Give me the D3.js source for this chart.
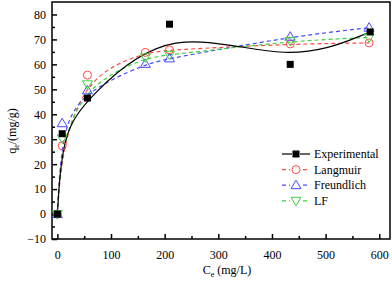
<!DOCTYPE html>
<meta charset="utf-8">
<style>
body { margin: 0; background: #fff; }
text { font-family: "Liberation Serif", "Times New Roman", serif; }
.axis path, .axis line { stroke: #000; stroke-width: 1.5px; }
.axis text { font-size: 12px; }
</style>
<svg width="392" height="281"></svg>
<script src="https://d3js.org/d3.v7.min.js"></script>
<script>

// data
const ce = [0, 9, 56, 164, 209, 434, 581];
const experimental = [[0, 0], [9, 32.2], [56, 46.5], [209, 76.1], [434, 60], [583, 73]];
const langmuir = [0, 27.4, 55.7, 64.8, 65.8, 68.2, 68.6];
const freundlich = [0, 36.4, 49.6, 60.2, 62.4, 71.1, 74.7];
const lf = [0, 30.3, 52.0, 62.8, 63.8, 69.4, 70.8];

const xTicks = [0, 100, 200, 300, 400, 500, 600];
const yTicks = [-10, 0, 10, 20, 30, 40, 50, 60, 70, 80];

const width = 392;
const height = 281;
const margin = { top: 2, right: 2, bottom: 42, left: 52 };
const serif = '"Liberation Serif", "Times New Roman", serif';

const svg = d3.select('svg');

const x = d3.scaleLinear().domain([-10, 620]).range([margin.left, width - margin.right]);
const y = d3.scaleLinear().domain([-10, 85]).range([height - margin.bottom, margin.top]);

// frame
svg.append('rect')
  .attr('x', margin.left)
  .attr('y', margin.top)
  .attr('width', width - margin.right - margin.left)
  .attr('height', height - margin.bottom - margin.top)
  .attr('fill', 'none')
  .attr('stroke', '#000')
  .attr('stroke-width', 1.5);

// minor ticks
svg.append('g')
  .attr('class', 'axis')
  .attr('transform', `translate(0,${height - margin.bottom})`)
  .call(d3.axisBottom(x).tickValues(d3.range(50, 600, 100)).tickSize(-3).tickFormat(''))
  .select('.domain').remove();

svg.append('g')
  .attr('class', 'axis')
  .attr('transform', `translate(${margin.left},0)`)
  .call(d3.axisLeft(y).tickValues(d3.range(-5, 85, 10)).tickSize(-3).tickFormat(''))
  .select('.domain').remove();

// major ticks
const xAxis = svg.append('g')
  .attr('class', 'axis')
  .attr('transform', `translate(0,${height - margin.bottom})`)
  .call(d3.axisBottom(x).tickValues(xTicks).tickSize(-5).tickPadding(11).tickSizeOuter(0));
xAxis.select('.domain').remove();

const yAxis = svg.append('g')
  .attr('class', 'axis')
  .attr('transform', `translate(${margin.left},0)`)
  .call(d3.axisLeft(y).tickValues(yTicks).tickSize(-5).tickPadding(6).tickSizeOuter(0));
yAxis.select('.domain').remove();
svg.selectAll('.axis')
  .attr('font-family', serif)
  .attr('font-size', 12);
svg.selectAll('.axis text').attr('fill', '#000');

// axis titles
const xl = svg.append('text')
  .attr('x', 227)
  .attr('y', 274)
  .attr('text-anchor', 'middle')
  .attr('font-size', 12);
xl.append('tspan').text('C');
xl.append('tspan').attr('font-size', 8).attr('dy', 3).text('e');
xl.append('tspan').attr('dy', -3).text(' (mg/L)');

const yl = svg.append('text')
  .attr('transform', 'translate(16,131) rotate(-90)')
  .attr('text-anchor', 'middle')
  .attr('font-size', 12);
yl.append('tspan').text('q');
yl.append('tspan').attr('font-size', 8).attr('dy', 3).text('e');
yl.append('tspan').attr('dy', -3).text('/(mg/g)');

const line = d3.line()
  .x(d => x(d[0]))
  .y(d => y(d[1]))
  .curve(d3.curveBasis);

const models = [
  { name: 'Langmuir', values: langmuir, color: '#ff4a4a', symbol: 'circle' },
  { name: 'Freundlich', values: freundlich, color: '#4a4aff', symbol: 'up' },
  { name: 'LF', values: lf, color: '#3ad43a', symbol: 'down' }
];

svg.append('defs').append('clipPath').attr('id', 'plot')
  .append('rect')
  .attr('x', margin.left).attr('y', margin.top)
  .attr('width', width - margin.left - margin.right)
  .attr('height', height - margin.top - margin.bottom);

const plot = svg.append('g').attr('clip-path', 'url(#plot)');

models.forEach(m => {
  plot.append('path')
    .datum(ce.map((c, i) => [c, m.values[i]]))
    .attr('d', line)
    .attr('fill', 'none')
    .attr('stroke', m.color)
    .attr('stroke-width', 1.2)
    .attr('stroke-dasharray', '4,3');
});

plot.append('path')
  .datum(experimental)
  .attr('d', line)
  .attr('fill', 'none')
  .attr('stroke', '#000')
  .attr('stroke-width', 1.2);

function drawSymbol(g, type, color, cx, cy) {
  if (type === 'circle') {
    g.append('circle').attr('cx', cx).attr('cy', cy).attr('r', 4)
      .attr('fill', 'none').attr('stroke', color).attr('stroke-width', 1);
  } else if (type === 'up') {
    g.append('path').attr('d', `M${cx},${cy - 5}L${cx + 5},${cy + 3.5}L${cx - 5},${cy + 3.5}Z`)
      .attr('fill', 'none').attr('stroke', color).attr('stroke-width', 1);
  } else if (type === 'down') {
    g.append('path').attr('d', `M${cx},${cy + 5}L${cx + 5},${cy - 3.5}L${cx - 5},${cy - 3.5}Z`)
      .attr('fill', 'none').attr('stroke', color).attr('stroke-width', 1);
  } else {
    g.append('rect').attr('x', cx - 3.5).attr('y', cy - 3.5).attr('width', 7).attr('height', 7)
      .attr('fill', '#000');
  }
}

models.forEach(m => {
  ce.forEach((c, i) => drawSymbol(plot, m.symbol, m.color, x(c), y(m.values[i])));
});
experimental.forEach(d => drawSymbol(plot, 'square', '#000', x(d[0]), y(d[1])));

// legend
const legendItems = [{ name: 'Experimental', color: '#000', symbol: 'square', dash: null }]
  .concat(models.map(m => ({ name: m.name, color: m.color, symbol: m.symbol, dash: '4,3' })));

const legend = svg.append('g');
legendItems.forEach((d, i) => {
  const ly = 154 + i * 15.6;
  legend.append('line')
    .attr('x1', 282).attr('x2', 310)
    .attr('y1', ly).attr('y2', ly)
    .attr('stroke', d.color)
    .attr('stroke-width', 1.2)
    .attr('stroke-dasharray', d.dash);
  if (d.symbol === 'square') {
    legend.append('rect').attr('x', 292).attr('y', ly - 3.5).attr('width', 8).attr('height', 7)
      .attr('fill', '#fff');
  } else {
    legend.append('rect').attr('x', 290).attr('y', ly - 5).attr('width', 12).attr('height', 10)
      .attr('fill', '#fff');
  }
  drawSymbol(legend, d.symbol, d.color, 296, ly);
  legend.append('text')
    .attr('x', 314)
    .attr('y', ly + 4)
    .attr('font-size', 12)
    .text(d.name);
});

</script>
